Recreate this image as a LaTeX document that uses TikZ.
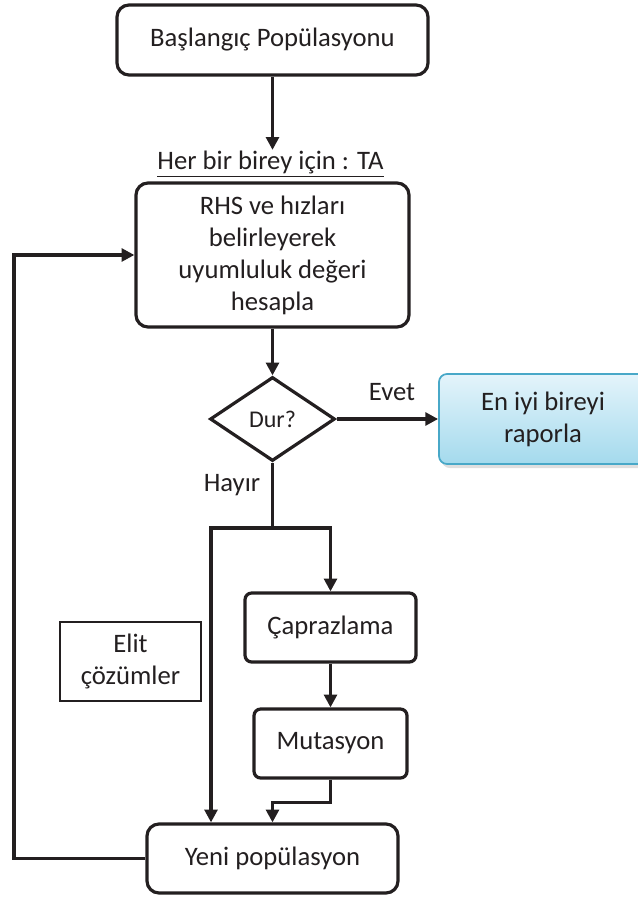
\documentclass[tikz,border=0pt]{standalone}
\usepackage{fontspec}
\setmainfont{Carlito}
\usetikzlibrary{arrows.meta,shapes.geometric,shadows}
\definecolor{koyu}{RGB}{35,31,32}
\definecolor{mavicerceve}{RGB}{72,168,200}
\definecolor{maviust}{RGB}{228,244,251}
\definecolor{mavialt}{RGB}{164,218,237}

\begin{document}
\begin{tikzpicture}[x=0.75pt,y=-0.75pt,color=koyu,line width=2.4pt,>={Triangle[length=9.5pt,width=9.5pt]},
  yazi/.style={font=\fontsize{20}{24}\selectfont,align=center,inner sep=0pt},
  kutu/.style={yazi,draw,rounded corners=9pt},
  karar/.style={draw,shape=diamond,inner sep=0pt,minimum width=93.75pt,minimum height=63pt,font=\fontsize{18}{22}\selectfont},
  sonuc/.style={yazi,draw=mavicerceve,line width=1.3pt,rounded corners=6pt,top color=maviust,bottom color=mavialt,
    drop shadow={opacity=0.25,shadow xshift=2pt,shadow yshift=-3pt}}]
  \useasboundingbox (0,0) rectangle (637,898);
  % kutular
  \node[kutu,minimum width=233.25pt,minimum height=52.5pt] (bas) at (272.5,40) {Başlangıç Popülasyonu};
  \node[yazi,anchor=base] (ta) at (270.5,170) {\underline{Her bir birey için : TA}};
  \node[kutu,minimum width=204.75pt,minimum height=108pt] (rhs) at (272.5,255) {RHS ve hızları\\belirleyerek\\uyumluluk değeri\\hesapla};
  \node[karar] (dur) at (272.5,419) {Dur?};
  \node[sonuc,minimum width=156pt,minimum height=67.5pt] (rapor) at (543,419) {En iyi bireyi\\raporla};
  \node[yazi] (evet) at (392,392) {Evet};
  \node[yazi] (hayir) at (232,485) {Hayır};
  \node[kutu,rounded corners=5pt,minimum width=128.25pt,minimum height=51.75pt] (capraz) at (330.5,627.5) {Çaprazlama};
  \node[kutu,rounded corners=5pt,minimum width=114.75pt,minimum height=51.75pt] (mut) at (330.5,743.5) {Mutasyon};
  \node[yazi,draw,line width=1.8pt,minimum width=105.75pt,minimum height=59.25pt] (elit) at (130.5,661.5) {Elit\\çözümler};
  \node[kutu,minimum width=188.25pt,minimum height=51.75pt] (yeni) at (272.5,858.5) {Yeni popülasyon};
  % baglantilar
  \coordinate (ayrim) at (272.5,528);
  \coordinate (sol) at (211,528);
  \coordinate (geri) at (14,858.5);
  \draw[->] (bas.south) -- (bas.south |- ta.north);
  \draw[->] (rhs.south) -- (dur.north);
  \draw[->] (dur.east) -- (rapor.west);
  \draw (dur.south) -- (ayrim);
  \draw[->] (ayrim) -| (capraz.north);
  \draw[->] (ayrim) -| (sol |- yeni.north);
  \draw[->] (capraz.south) -- (mut.north);
  \draw[->] (mut.south) -- ++(0,23) -| (yeni.north);
  \draw[->] (yeni.west) -- (geri) |- (rhs.west);
\end{tikzpicture}
\end{document}
